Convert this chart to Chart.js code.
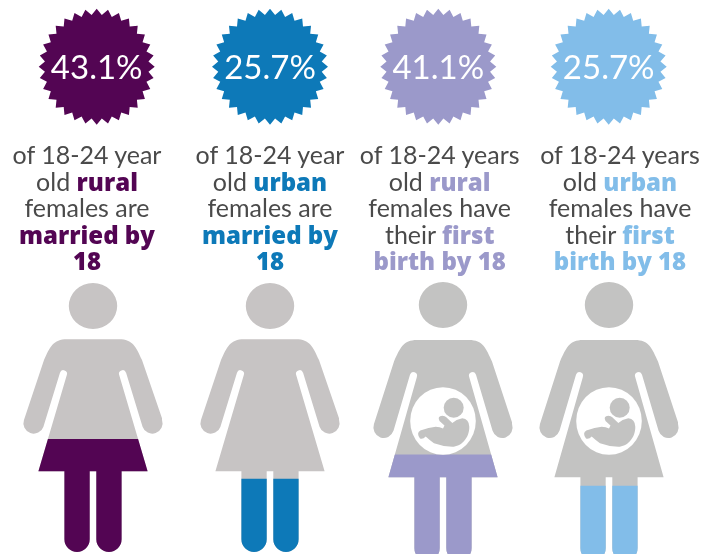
<!DOCTYPE html>
<html>
<head>
<meta charset="utf-8">
<script src="https://cdn.jsdelivr.net/npm/chart.js@4"></script>
<style>
  html, body { margin: 0; background: #fff; }
  #page { position: relative; width: 704px; height: 554px; overflow: hidden; }
  #page canvas { position: absolute; top: 0; }
  .caption {
    position: absolute; top: 141px; width: 180px; text-align: center; white-space: nowrap;
    font: 400 25px/26.6px Lato, sans-serif; color: #4a4a4a;
  }
  .caption b { font: 800 24px/0 "Open Sans", sans-serif; }
</style>
</head>
<body>
<div id="page"></div>
<script>
const categories = ['rural married', 'urban married', 'rural first birth', 'urban first birth'];
const rates = ['43.1%', '25.7%', '41.1%', '25.7%'];
// how far the colour climbs up each figure (% of figure height)
const fillLevels = [41.9, 27.1, 37.8, 26.6];
const colors = ['#530553', '#0d79b8', '#9b99ca', '#82bde9'];
const greys = ['#c7c4c4', '#c7c4c4', '#c3c3c2', '#c3c3c2'];
const pregnant = [false, false, true, true];
const captions = [
  ['of 18-24 year', 'old <b>rural</b>', 'females are', '<b>married by</b>', '<b>18</b>'],
  ['of 18-24 year', 'old <b>urban</b>', 'females are', '<b>married by</b>', '<b>18</b>'],
  ['of 18-24 years', 'old <b>rural</b>', 'females have', 'their <b>first</b>', '<b>birth by 18</b>'],
  ['of 18-24 years', 'old <b>urban</b>', 'females have', 'their <b>first</b>', '<b>birth by 18</b>']
];

// column layout
const figureX = [93, 270, 443, 609];
const badgeX = [96.7, 270, 438.3, 608.7];
const captionX = [87, 270, 439.7, 620];
const figureTop = [283, 283, 282, 282];
const figureBottom = [552, 552, 560, 560];
const canvasW = 160, canvasH = 564, badgeY = 66.7;

function bodyPath(ctx, cx, top, stretch) {
  ctx.save();
  ctx.translate(cx, top);
  ctx.scale(1, stretch);
  ctx.moveTo(-26, 0);
  ctx.lineTo(26, 0);
  ctx.bezierCurveTo(40, 0, 43, 8, 49, 20.7);
  ctx.lineTo(69, 79);
  ctx.arc(59.3, 84, 10.3, -0.33, Math.PI - 0.33, false);
  ctx.lineTo(33, 33.3);
  ctx.arc(29.6, 34.5, 3.6, -0.33, Math.PI - 0.33, true);
  ctx.lineTo(54.6, 132);
  ctx.lineTo(28.6, 132);
  ctx.lineTo(28.6, 200);
  ctx.arc(15.95, 200, 12.65, 0, Math.PI, false);
  ctx.lineTo(3.3, 132);
  ctx.lineTo(-3.3, 132);
  ctx.lineTo(-3.3, 200);
  ctx.arc(-15.95, 200, 12.65, 0, Math.PI, false);
  ctx.lineTo(-28.6, 132);
  ctx.lineTo(-54.6, 132);
  ctx.lineTo(-26.2, 35.7);
  ctx.arc(-29.6, 34.5, 3.6, 0.33, Math.PI + 0.33, true);
  ctx.lineTo(-49.5, 87.3);
  ctx.arc(-59.3, 84, 10.3, 0.33, Math.PI + 0.33, false);
  ctx.lineTo(-49, 20.7);
  ctx.bezierCurveTo(-43, 8, -40, 0, -26, 0);
  ctx.closePath();
  ctx.restore();
}

function starPath(ctx, cx, cy, outer, inner, spikes) {
  for (let k = 0; k < spikes * 2; k++) {
    const r = k % 2 ? inner : outer;
    const a = -Math.PI / 2 + k * Math.PI / spikes;
    ctx.lineTo(cx + r * Math.cos(a), cy + r * Math.sin(a));
  }
  ctx.closePath();
}

function drawBaby(ctx, cx, cy, grey) {
  ctx.fillStyle = '#fff';
  ctx.beginPath();
  ctx.ellipse(cx, cy, 32.8, 33.8, 0, 0, Math.PI * 2);
  ctx.fill();
  ctx.fillStyle = grey;
  ctx.beginPath();
  ctx.arc(cx + 10.7, cy - 13.3, 10, 0, Math.PI * 2);
  ctx.fill();
  ctx.save();
  ctx.translate(cx, cy);
  ctx.beginPath();
  ctx.moveTo(-22.7, 9.5);
  ctx.quadraticCurveTo(-14, 6.5, -7.3, 5.7);
  ctx.quadraticCurveTo(-3, 6, 0, 7.5);
  ctx.lineTo(1.5, 4.5);
  ctx.lineTo(-3.5, 0);
  ctx.quadraticCurveTo(-6, -5, -0.7, -5.3);
  ctx.quadraticCurveTo(2, -5.3, 3.3, -3.7);
  ctx.lineTo(9.3, 2);
  ctx.quadraticCurveTo(13, -1.5, 19.3, -2.7);
  ctx.quadraticCurveTo(26, -2, 26.3, 5.7);
  ctx.bezierCurveTo(26.5, 17, 18, 25.7, 9.3, 25.7);
  ctx.quadraticCurveTo(0, 25.7, -9, 22.3);
  ctx.quadraticCurveTo(-13, 19.5, -17.3, 15.5);
  ctx.quadraticCurveTo(-20, 18.5, -23, 17.5);
  ctx.quadraticCurveTo(-27, 12, -22.7, 9.5);
  ctx.closePath();
  ctx.fill();
  ctx.restore();
}

const page = document.getElementById('page');

categories.forEach((name, i) => {
  const canvas = document.createElement('canvas');
  canvas.width = canvasW;
  canvas.height = canvasH;
  canvas.style.left = (figureX[i] - canvasW / 2) + 'px';
  page.appendChild(canvas);

  const stretch = pregnant[i] ? 1.04 : 1;
  const bodyOffset = pregnant[i] ? 58 : 56.3;

  const figure = {
    id: 'figure',
    // the two bars only show through the outline of the woman
    beforeDatasetsDraw(chart) {
      const ctx = chart.ctx;
      const cx = chart.scales.x.getPixelForValue(0);
      const top = chart.scales.y.getPixelForValue(100);
      ctx.save();
      ctx.beginPath();
      ctx.moveTo(cx + 24.2, top + 23);
      ctx.ellipse(cx, top + 23, 24.2, 23, 0, 0, Math.PI * 2);
      bodyPath(ctx, cx, top + bodyOffset, stretch);
      ctx.clip();
    },
    afterDatasetsDraw(chart) {
      const ctx = chart.ctx;
      const cx = chart.scales.x.getPixelForValue(0);
      const top = chart.scales.y.getPixelForValue(100);
      ctx.restore();
      if (pregnant[i]) drawBaby(ctx, cx, top + bodyOffset + 81, greys[i]);

      const bx = cx + badgeX[i] - figureX[i];
      ctx.save();
      ctx.fillStyle = colors[i];
      ctx.beginPath();
      starPath(ctx, bx, badgeY, 58, 52, 32);
      ctx.fill();
      ctx.fillStyle = '#fff';
      ctx.font = '400 33px Lato, sans-serif';
      ctx.textAlign = 'center';
      ctx.textBaseline = 'alphabetic';
      ctx.fillText(rates[i], bx, 79);
      ctx.restore();
    }
  };

  new Chart(canvas, {
    type: 'bar',
    data: {
      labels: [name],
      datasets: [
        { data: [fillLevels[i]], backgroundColor: colors[i], order: 1 },
        { data: [100], backgroundColor: greys[i], order: 2 }
      ]
    },
    options: {
      responsive: false,
      animation: false,
      events: [],
      layout: { padding: { top: figureTop[i], bottom: canvasH - figureBottom[i], left: 0, right: 0 } },
      datasets: { bar: { grouped: false, barPercentage: 1, categoryPercentage: 1 } },
      plugins: { legend: { display: false }, tooltip: { enabled: false } },
      scales: {
        x: { display: false },
        y: { display: false, min: 0, max: 100 }
      }
    },
    plugins: [figure]
  });

  const caption = document.createElement('div');
  caption.className = 'caption';
  caption.style.left = (captionX[i] - 90) + 'px';
  caption.innerHTML = captions[i].join('<br>');
  caption.querySelectorAll('b').forEach(b => { b.style.color = colors[i]; });
  page.appendChild(caption);
});
</script>
</body>
</html>
